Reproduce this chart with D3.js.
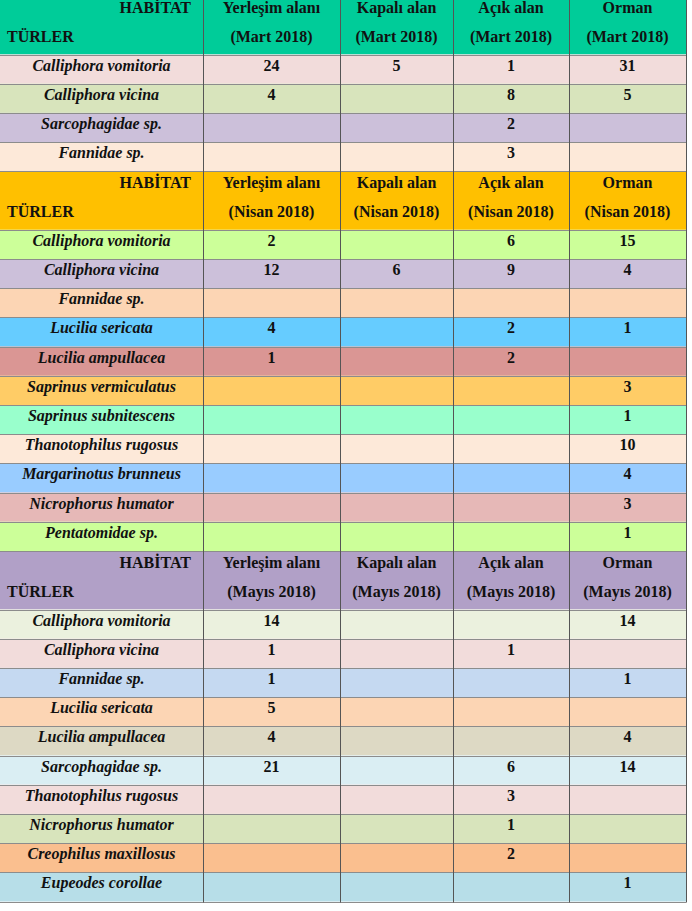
<!DOCTYPE html>
<html>
<head>
<meta charset="utf-8">
<script src="https://cdn.jsdelivr.net/npm/d3@7"></script>
<style>
body { margin: 0; background: #fff; }
</style>
</head>
<body>
<div id="viz"></div>
<script>
var width = 692;
var height = 911;

// data
var months = ["Mart 2018", "Nisan 2018", "Mayıs 2018"];
var habitats = ["Yerleşim alanı", "Kapalı alan", "Açık alan", "Orman"];

var species_mart = ["Calliphora vomitoria", "Calliphora vicina", "Sarcophagidae sp.", "Fannidae sp."];
var counts_mart = [
	[24, 5, 1, 31],
	[4, null, 8, 5],
	[null, null, 2, null],
	[null, null, 3, null]
];

var species_nisan = ["Calliphora vomitoria", "Calliphora vicina", "Fannidae sp.", "Lucilia sericata",
	"Lucilia ampullacea", "Saprinus vermiculatus", "Saprinus subnitescens", "Thanotophilus rugosus",
	"Margarinotus brunneus", "Nicrophorus humator", "Pentatomidae sp."];
var counts_nisan = [
	[2, null, 6, 15],
	[12, 6, 9, 4],
	[null, null, null, null],
	[4, null, 2, 1],
	[1, null, 2, null],
	[null, null, null, 3],
	[null, null, null, 1],
	[null, null, null, 10],
	[null, null, null, 4],
	[null, null, null, 3],
	[null, null, null, 1]
];

var species_mayis = ["Calliphora vomitoria", "Calliphora vicina", "Fannidae sp.", "Lucilia sericata",
	"Lucilia ampullacea", "Sarcophagidae sp.", "Thanotophilus rugosus", "Nicrophorus humator",
	"Creophilus maxillosus", "Eupeodes corollae"];
var counts_mayis = [
	[14, null, null, 14],
	[1, null, 1, null],
	[1, null, null, 1],
	[5, null, null, null],
	[4, null, null, 4],
	[21, null, 6, 14],
	[null, null, 3, null],
	[null, null, 1, null],
	[null, null, 2, null],
	[null, null, null, 1]
];

// styles
var headerFills = ["#00CC99", "#FFC000", "#B1A0C7"];
var fills_mart = ["#F2DCDB", "#D8E4BC", "#CCC0DA", "#FDE9D9"];
var fills_nisan = ["#CCFF99", "#CCC0DA", "#FCD5B4", "#66CCFF", "#DA9694", "#FFCC66",
	"#99FFCC", "#FDE9D9", "#99CCFF", "#E6B8B7", "#CCFF99"];
var fills_mayis = ["#EBF1DE", "#F2DCDB", "#C5D9F1", "#FCD5B4", "#DDD9C4", "#DAEEF3",
	"#F2DCDB", "#D8E4BC", "#FABF8F", "#B7DEE8"];

var sections = [
	{ month: months[0], species: species_mart, counts: counts_mart, fills: fills_mart, head: headerFills[0] },
	{ month: months[1], species: species_nisan, counts: counts_nisan, fills: fills_nisan, head: headerFills[1] },
	{ month: months[2], species: species_mayis, counts: counts_mayis, fills: fills_mayis, head: headerFills[2] }
];

// layout
var colWidths = [203, 137, 113, 116, 117];
var colEdges = [0].concat(Array.from(d3.cumsum(colWidths)));
var headH = 58.5;
var rowH = 29.2;
var top0 = -4;
var textColor = "#111";

// flatten to rows
var rows = [];
sections.forEach(function(s) {
	rows.push({ type: "head", month: s.month, fill: s.head, h: headH });
	s.species.forEach(function(sp, i) {
		rows.push({ type: "body", name: sp, vals: s.counts[i], fill: s.fills[i], h: rowH });
	});
});
var yPos = [top0];
rows.forEach(function(r) { yPos.push(yPos[yPos.length - 1] + r.h); });
rows.forEach(function(r, i) { r.y = yPos[i]; });

var x = d3.scaleOrdinal()
	.domain(d3.range(5))
	.range(colEdges.slice(0, 5));

var svg = d3.select("#viz").append("svg")
	.attr("width", width)
	.attr("height", height)
	.style("font-family", "'Liberation Serif', 'Times New Roman', serif")
	.style("font-size", "16px")
	.style("font-weight", "bold");

svg.append("rect")
	.attr("width", width)
	.attr("height", height)
	.style("fill", "#FFFFFF");

var gRow = svg.selectAll(".row")
		.data(rows)
	.enter().append("g")
		.attr("class", "row")
		.attr("transform", function(d) { return "translate(0," + d.y + ")"; });

gRow.append("rect")
	.attr("x", 0)
	.attr("width", colEdges[5])
	.attr("height", function(d) { return d.h; })
	.style("fill", function(d) { return d.fill; });

// header rows
var heads = gRow.filter(function(d) { return d.type == "head"; });

heads.append("text")
	.attr("x", colEdges[1] - 12)
	.attr("y", 17)
	.attr("text-anchor", "end")
	.style("fill", textColor)
	.text("HABİTAT");

heads.append("text")
	.attr("x", 7)
	.attr("y", 46)
	.style("fill", textColor)
	.text("TÜRLER");

heads.each(function(d) {
	var g = d3.select(this);
	habitats.forEach(function(h, j) {
		var cx = x(j + 1) + colWidths[j + 1] / 2;
		g.append("text")
			.attr("x", cx)
			.attr("y", 17)
			.attr("text-anchor", "middle")
			.style("fill", textColor)
			.text(h);
		g.append("text")
			.attr("x", cx)
			.attr("y", 46)
			.attr("text-anchor", "middle")
			.style("fill", textColor)
			.text("(" + d.month + ")");
	});
});

// body rows
var bodies = gRow.filter(function(d) { return d.type == "body"; });

bodies.append("text")
	.attr("x", colWidths[0] / 2)
	.attr("y", 16)
	.attr("text-anchor", "middle")
	.style("font-style", "italic")
	.style("fill", textColor)
	.text(function(d) { return d.name; });

bodies.selectAll(".val")
		.data(function(d) { return d.vals; })
	.enter().append("text")
		.attr("class", "val")
		.attr("x", function(v, j) { return x(j + 1) + colWidths[j + 1] / 2; })
		.attr("y", 16)
		.attr("text-anchor", "middle")
		.style("fill", textColor)
		.text(function(v) { return v == null ? "" : v; });

// grid lines
var bottom = yPos[yPos.length - 1];

svg.selectAll(".hline")
		.data(yPos.slice(1))
	.enter().append("line")
		.attr("class", "hline")
		.attr("x1", 0)
		.attr("x2", colEdges[5])
		.attr("y1", function(d) { return Math.round(d) + 0.5; })
		.attr("y2", function(d) { return Math.round(d) + 0.5; })
		.style("stroke", "#8c8c8c")
		.style("stroke-width", 1.2);

svg.selectAll(".vline")
		.data(colEdges.slice(1))
	.enter().append("line")
		.attr("class", "vline")
		.attr("x1", function(d) { return d + 0.5; })
		.attr("x2", function(d) { return d + 0.5; })
		.attr("y1", 0)
		.attr("y2", Math.round(bottom) + 0.5)
		.style("stroke", "#555")
		.style("stroke-width", 1);
</script>
</body>
</html>
